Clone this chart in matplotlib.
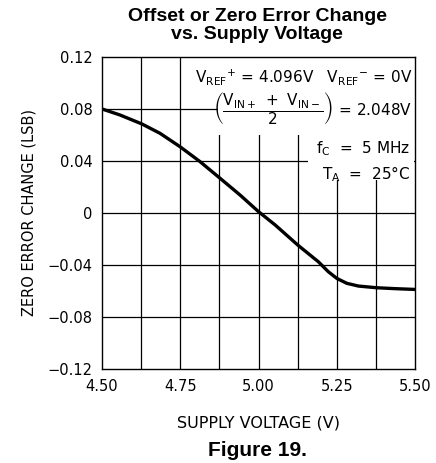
import numpy as np
import matplotlib
matplotlib.use("Agg")
import matplotlib.pyplot as plt
from matplotlib.patches import Rectangle

# curve
supply_v = [4.50, 4.557, 4.627, 4.685, 4.749, 4.813, 4.877, 4.941, 5.00,
            5.053, 5.125, 5.191, 5.223, 5.25, 5.282, 5.319, 5.377, 5.436, 5.50]
zero_err = [0.080, 0.0754, 0.0685, 0.0613, 0.051, 0.0395, 0.0267, 0.0138, 0.001,
            -0.0092, -0.0246, -0.0375, -0.0452, -0.0503, -0.0541, -0.0562, -0.0575, -0.0582, -0.0588]

x_ticks = [4.50, 4.75, 5.00, 5.25, 5.50]
x_tick_labels = ["4.50", "4.75", "5.00", "5.25", "5.50"]
x_grid = np.arange(4.5, 5.5001, 0.125)
y_ticks = [-0.12, -0.08, -0.04, 0, 0.04, 0.08, 0.12]
y_tick_labels = ["\u22120.12", "\u22120.08", "\u22120.04", "0", "0.04", "0.08", "0.12"]

plt.rcParams['font.family'] = ['DejaVu Sans']
plt.rcParams['mathtext.fontset'] = 'dejavusans'

fig = plt.figure(figsize=(4.36, 4.63), dpi=100)
ax = fig.add_axes([0.234, 0.203, 0.718, 0.674])

ax.set_xlim(4.5, 5.5)
ax.set_ylim(-0.12, 0.12)

# grid
for xv in x_grid[1:-1]:
    ax.axvline(xv, color='black', lw=0.9, zorder=1)
for yv in y_ticks[1:-1]:
    ax.axhline(yv, color='black', lw=0.9, zorder=1)

# white areas behind the condition text
ax.add_patch(Rectangle((0.371, 0.75), 0.63, 0.25, transform=ax.transAxes,
                       facecolor='white', edgecolor='none', zorder=2))
ax.add_patch(Rectangle((0.658, 0.605), 0.34, 0.15, transform=ax.transAxes,
                       facecolor='white', edgecolor='none', zorder=2))

ax.plot(supply_v, zero_err, color='black', lw=2.4, zorder=3,
        solid_joinstyle='round', solid_capstyle='butt')

ax.set_xticks(x_ticks)
ax.set_xticklabels(x_tick_labels)
ax.set_yticks(y_ticks)
ax.set_yticklabels(y_tick_labels)
ax.tick_params(length=0, labelsize=10.5, pad=7)
for s in ax.spines.values():
    s.set_linewidth(1.0)
    s.set_zorder(4)

ax.set_xlabel("SUPPLY VOLTAGE (V)", fontsize=11.5, labelpad=16)
ax.set_ylabel("ZERO ERROR CHANGE (LSB)", fontsize=10.5, labelpad=8)

fig.text(0.59, 0.964, "Offset or Zero Error Change", ha='center', va='center',
         fontsize=14, fontweight='bold', family='Liberation Sans')
fig.text(0.59, 0.926, "vs. Supply Voltage", ha='center', va='center',
         fontsize=14, fontweight='bold', family='Liberation Sans')
fig.text(0.59, 0.028, "Figure 19.", ha='center', va='center',
         fontsize=15, fontweight='bold', family='Liberation Sans')

ax.text(0.99, 0.935, r"$\mathregular{V_{REF}}^{+}$ = 4.096V   $\mathregular{V_{REF}}^{-}$ = 0V",
        transform=ax.transAxes, ha='right', va='center', fontsize=11, zorder=5)
ax.text(0.99, 0.835, r"$\left(\dfrac{\mathregular{V_{IN+}\ +\ V_{IN-}}}{\mathregular{2}}\right)$ = 2.048V",
        transform=ax.transAxes, ha='right', va='center', fontsize=11, zorder=5)
ax.text(0.985, 0.705, r"$\mathregular{f_C}$  =  5 MHz",
        transform=ax.transAxes, ha='right', va='center', fontsize=11, zorder=5)
ax.text(0.985, 0.625, r"$\mathregular{T_A}$  =  25°C",
        transform=ax.transAxes, ha='right', va='center', fontsize=11, zorder=5)

fig.savefig("out.png", dpi=100)
